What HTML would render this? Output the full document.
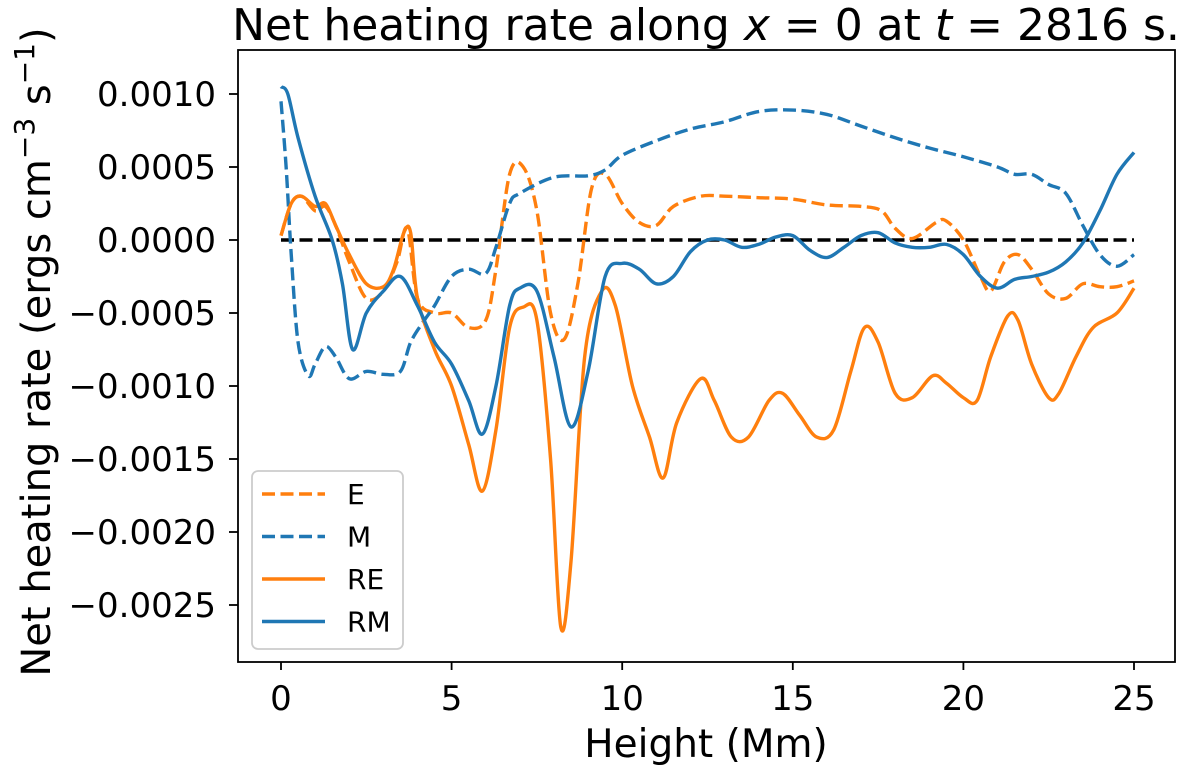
<!DOCTYPE html>
<html><head><meta charset="utf-8"><style>
body{margin:0;background:#fff}
svg text{font-family:"DejaVu Sans","Liberation Sans",sans-serif;fill:#000}
</style></head><body>
<svg id="chart" width="1200" height="776" viewBox="0 0 1200 776" xmlns="http://www.w3.org/2000/svg">
<text x="706" y="40" font-size="44" text-anchor="middle">Net heating rate along <tspan font-style="italic">x</tspan> = 0 at <tspan font-style="italic">t</tspan> = 2816 s.</text>
<text x="706" y="757" font-size="39" text-anchor="middle">Height (Mm)</text>
<text transform="translate(50,352) rotate(-90)" font-size="40" text-anchor="middle">Net heating rate (ergs cm<tspan dy="-16" font-size="28">−3</tspan><tspan dy="16"> s</tspan><tspan dy="-16" font-size="28">−1</tspan><tspan dy="16">)</tspan></text>
<g id="plot"></g>
<rect x="238" y="50" width="937" height="612" fill="none" stroke="#000" stroke-width="1.8"/>
</svg>
<script>
const xTicks=[0,5,10,15,20,25];
const yTicks=[0.001,0.0005,0,-0.0005,-0.001,-0.0015,-0.002,-0.0025];
const yTickLabels=["0.0010","0.0005","0.0000","−0.0005","−0.0010","−0.0015","−0.0020","−0.0025"];
const reH=[0,0.3,0.6,1,1.3,1.6,2,2.5,3,3.3,3.6,3.8,4,4.5,5,5.5,5.9,6.3,6.7,7.1,7.5,7.9,8.2,8.5,8.9,9.4,9.8,10.3,10.8,11.2,11.6,12.3,12.7,13.2,13.7,14.3,14.7,15.2,15.7,16.2,16.7,17.1,17.5,18,18.5,19.1,19.5,20,20.4,20.8,21.3,21.6,22,22.5,22.8,23.3,23.8,24.5,25];
const reV=[0.3,2.5,3,2.3,2.5,1,-1,-3,-3.2,-2,0.5,0.5,-4,-7.5,-10,-14,-17.2,-13,-6,-4.6,-5.5,-15,-26.5,-22,-8,-3.5,-4.5,-10,-13.5,-16.3,-12.5,-9.5,-11,-13.5,-13.5,-11,-10.5,-12,-13.5,-13,-9,-6,-7,-10.5,-10.8,-9.3,-9.8,-10.8,-11,-8,-5.2,-5.5,-8.5,-10.8,-10.5,-8,-6,-5,-3.3];
const rmH=[0,0.2,0.5,1,1.5,1.8,2.1,2.5,3,3.5,4,4.5,5,5.5,5.9,6.3,6.7,7,7.5,8,8.5,9,9.5,10,10.5,11,11.5,12,12.5,13,13.5,14,14.5,15,15.5,16,16.5,17,17.5,18,18.5,19,19.5,20,20.5,21,21.5,22,22.5,23,23.5,24,24.5,25];
const rmV=[10.5,10,7,3,0,-3,-7.5,-5,-3.5,-2.5,-4.5,-7,-8.5,-11,-13.3,-10,-4.5,-3.3,-3.5,-8,-12.8,-9,-2.5,-1.6,-2,-3,-2.5,-0.8,0,0,-0.5,-0.3,0.2,0.3,-0.7,-1.2,-0.5,0.3,0.5,-0.2,-0.5,-0.5,-0.3,-1,-2.5,-3.3,-2.7,-2.5,-2.2,-1.5,-0.2,2,4.5,6];
const eH=[0,0.3,0.6,1,1.3,1.6,2,2.5,3,3.4,3.7,4,4.5,5,5.5,6,6.3,6.7,7.1,7.5,7.9,8.3,8.7,9.1,9.5,10,10.5,11,11.5,12.3,13,14,15,16,17,17.6,18,18.5,19.2,19.5,20,20.5,20.8,21.2,21.6,22,22.5,23,23.5,24,24.5,25];
const eV=[0.3,2.5,3,2,2.3,1,-1.5,-4,-3.5,-1.5,0.8,-4,-5,-5,-6,-5.5,-2,4.5,5,2,-5,-6.8,-3,3.5,4.5,2.5,1.2,1,2.3,3,3,2.9,2.8,2.4,2.3,2,0.8,0.1,1.2,1.3,0,-2.5,-3.5,-1.5,-1,-2,-3.7,-4,-3,-3.2,-3.2,-2.8];
const mH=[0,0.15,0.3,0.5,0.8,1,1.3,1.6,2,2.5,3,3.5,3.8,4.2,4.5,5,5.5,6,6.3,6.7,7,8,9,9.5,10,11,12,13,14,15,16,17,18,19,20,21,21.5,22,22.5,23,23.5,24,24.5,25];
const mV=[9.5,5,-1,-7,-9.3,-8.5,-7.3,-8,-9.5,-9,-9.2,-9,-7,-5.5,-4.5,-2.5,-2,-2.3,-0.5,2.5,3.2,4.3,4.4,4.8,5.8,6.8,7.6,8.1,8.8,8.9,8.6,7.8,7,6.3,5.7,5,4.5,4.5,3.8,3.2,1,-1,-1.8,-1];
const NS="http://www.w3.org/2000/svg";
const X=v=>281+v*34.12;
const Y=v=>240-v*146000;
const g=document.getElementById('plot');
function mk(t,a){const e=document.createElementNS(NS,t);for(const k in a)e.setAttribute(k,a[k]);g.appendChild(e);return e;}
xTicks.forEach(t=>{
 const l=mk('line',{x1:X(t),x2:X(t),y1:662,y2:670,stroke:'#000','stroke-width':1.8});
 
 
 const tx=mk('text',{x:X(t),y:710,'font-size':34,'text-anchor':'middle'});tx.textContent=t;
 
 
});
yTicks.forEach((t,i)=>{
 const l=mk('line',{x1:229,x2:238,y1:Y(t),y2:Y(t),stroke:'#000','stroke-width':1.8});
 
 
 const tx=mk('text',{x:216,y:Y(t)+12,'font-size':34,'text-anchor':'end'});tx.textContent=yTickLabels[i];
 
 
});
function path(H,V){
 const p=H.map((h,i)=>[X(h),Y(V[i]*1e-4)]);
 let d='M'+p[0][0]+','+p[0][1];
 for(let i=0;i<p.length-1;i++){
  const p0=p[Math.max(0,i-1)],p1=p[i],p2=p[i+1],p3=p[Math.min(p.length-1,i+2)];
  const c1=[p1[0]+(p2[0]-p0[0])/6,p1[1]+(p2[1]-p0[1])/6];
  const c2=[p2[0]-(p3[0]-p1[0])/6,p2[1]-(p3[1]-p1[1])/6];
  d+=`C${c1[0]},${c1[1]} ${c2[0]},${c2[1]} ${p2[0]},${p2[1]}`;
 }
 return d;
}
const zl=mk('line',{x1:X(0),x2:X(25),y1:Y(0),y2:Y(0),stroke:'#000','stroke-width':3.4,'stroke-dasharray':'13,5.5'});


const series=[['series-e',eH,eV,'#ff7f0e','13,5.5'],['series-m',mH,mV,'#1f77b4','13,5.5'],['series-re',reH,reV,'#ff7f0e',''],['series-rm',rmH,rmV,'#1f77b4','']];
series.forEach(s=>{
 const a={d:path(s[1],s[2]),fill:'none',stroke:s[3],'stroke-width':3.4,'stroke-linejoin':'round'};
 if(s[4])a['stroke-dasharray']=s[4];
 const e=mk('path',a);
 
 
});
const lg=mk('rect',{x:252,y:471,width:151,height:178,rx:6,fill:'#fff','fill-opacity':0.8,stroke:'#ccc','stroke-width':1.8});


const names=['E','M','RE','RM'];
series.forEach((s,i)=>{
 const y=494+i*42.5;
 const a={x1:262,x2:325,y1:y,y2:y,stroke:s[3],'stroke-width':3.4};
 if(s[4])a['stroke-dasharray']=s[4];
 const l=mk('line',a);
 
 
 const t=mk('text',{x:347,y:y+10,'font-size':28});t.textContent=names[i];
 
 
});
</script>
</body></html>
